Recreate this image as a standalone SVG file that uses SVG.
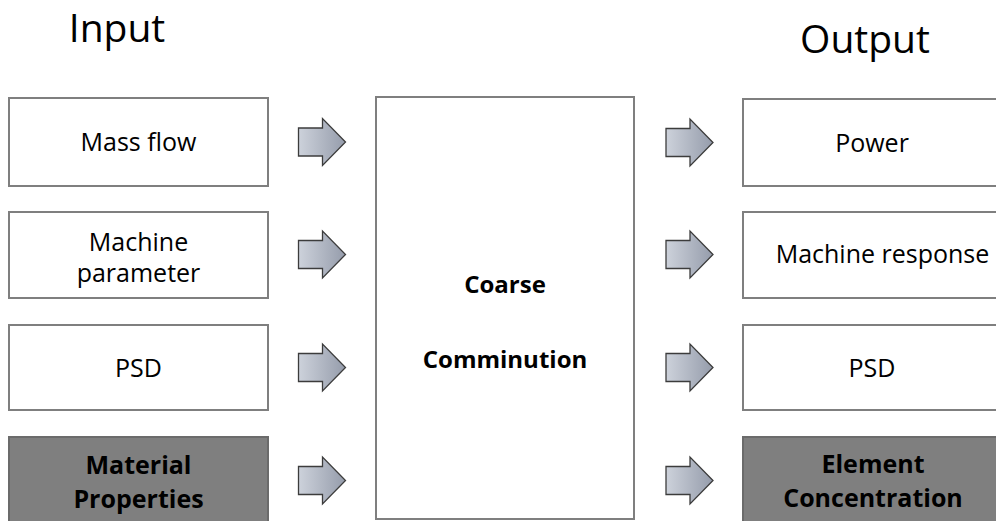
<svg xmlns="http://www.w3.org/2000/svg" width="996" height="521" viewBox="0 0 996 521">
<style>
  text { font-family: "Open Sans", "Noto Sans", "DejaVu Sans", sans-serif; fill: #000; text-anchor: middle; }
  .title { font-size: 39px; }
  .lbl { font-size: 25px; }
  .bold { font-size: 24px; font-weight: bold; }
  .box { fill: #ffffff; stroke: #7f7f7f; stroke-width: 2; }
  .dark { fill: #7f7f7f; stroke: #6b6b6b; stroke-width: 2; }
  .arrow { fill: url(#ag); stroke: #3c3c3c; stroke-width: 1.3; stroke-linejoin: miter; }
</style>
<defs>
  <linearGradient id="ag" x1="0" y1="0" x2="1" y2="0">
    <stop offset="0" stop-color="#cdd2db"/>
    <stop offset="1" stop-color="#959cab"/>
  </linearGradient>
  <path id="arr" d="M0,-14 L24,-14 L24,-23.5 L47,0 L24,23.5 L24,14 L0,14 Z"/>
</defs>
<rect width="996" height="521" fill="#ffffff"/>

<text class="title" x="117" y="42">Input</text>
<text class="title" x="865" y="53">Output</text>

<g id="in-massflow">
  <rect class="box" x="9" y="98" width="259" height="88"/>
  <text class="lbl" x="138.5" y="151">Mass flow</text>
</g>
<g id="in-machine">
  <rect class="box" x="9" y="212" width="259" height="86"/>
  <text class="lbl" x="138.5" y="251">Machine</text>
  <text class="lbl" x="138.5" y="282">parameter</text>
</g>
<g id="in-psd">
  <rect class="box" x="9" y="325" width="259" height="85"/>
  <text class="lbl" x="138.5" y="377">PSD</text>
</g>
<g id="in-material">
  <rect class="dark" x="9" y="437" width="259" height="95"/>
  <text class="bold" x="138.5" y="474" style="font-size:25px">Material</text>
  <text class="bold" x="138.5" y="508" style="font-size:25px">Properties</text>
</g>

<g id="center">
  <rect class="box" x="376" y="97" width="258" height="422"/>
  <text class="bold" x="505" y="293">Coarse</text>
  <text class="bold" x="505" y="368">Comminution</text>
</g>

<g id="out-power">
  <rect class="box" x="743" y="99" width="259" height="87"/>
  <text class="lbl" x="872" y="152">Power</text>
</g>
<g id="out-machine">
  <rect class="box" x="743" y="212" width="259" height="86"/>
  <text class="lbl" x="882.5" y="263">Machine response</text>
</g>
<g id="out-psd">
  <rect class="box" x="743" y="325" width="259" height="85"/>
  <text class="lbl" x="872" y="377">PSD</text>
</g>
<g id="out-element">
  <rect class="dark" x="743" y="437" width="259" height="95"/>
  <text class="bold" x="873" y="473" style="font-size:25px">Element</text>
  <text class="bold" x="873" y="507" style="font-size:25px">Concentration</text>
</g>

<g id="connectors">
  <use href="#arr" class="arrow" x="298.5" y="142"/>
  <use href="#arr" class="arrow" x="298.5" y="254.5"/>
  <use href="#arr" class="arrow" x="298.5" y="367.5"/>
  <use href="#arr" class="arrow" x="298.5" y="480.5"/>
  <use href="#arr" class="arrow" x="666" y="142.5"/>
  <use href="#arr" class="arrow" x="666" y="254.5"/>
  <use href="#arr" class="arrow" x="666" y="367.5"/>
  <use href="#arr" class="arrow" x="666" y="480.5"/>
</g>
</svg>
